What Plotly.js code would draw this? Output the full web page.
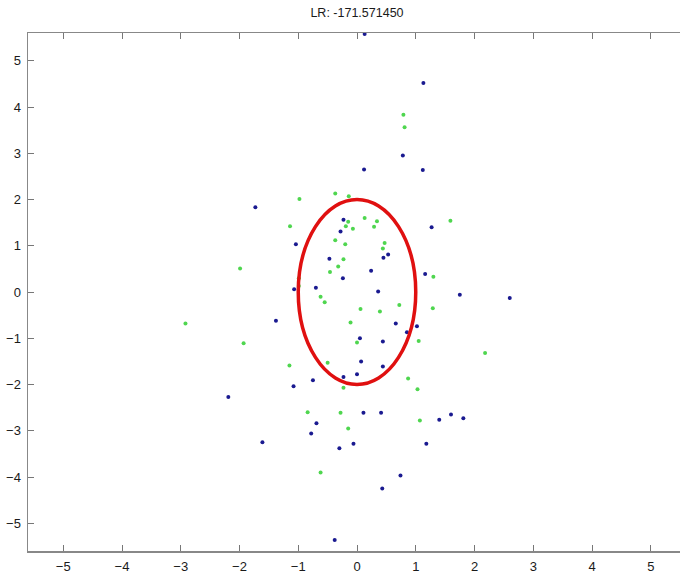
<!DOCTYPE html>
<html>
<head>
<meta charset="utf-8">
<script src="https://cdn.plot.ly/plotly-3.0.1.min.js"></script>
<style>
html,body{margin:0;padding:0;overflow:hidden;background:#fff;}
#chart{width:688px;height:575px;}
</style>
</head>
<body>
<div id="chart"></div>
<script>
// Blue sample points
const blueX = [0.13, 1.13, 0.78, 0.12, 1.12, -1.73, -0.23, 1.27, -0.28, -1.04, -0.47, 0.45, 0.53, 0.24, -0.24, 1.16, -1.07, -0.70, 0.36, 1.75, 2.60, -1.38, 0.66, 0.85, 1.02, 0.05, 0.44, 0.07, 0.44, 0.00, -0.23, -0.75, -1.08, -2.19, 0.11, 0.41, -0.69, -0.78, -1.61, -0.30, -0.06, 1.40, 1.60, 1.81, 1.18, 0.74, 0.43, -0.38];
const blueY = [5.58, 4.52, 2.95, 2.65, 2.64, 1.83, 1.56, 1.40, 1.31, 1.03, 0.72, 0.74, 0.81, 0.46, 0.30, 0.39, 0.06, 0.09, 0.01, -0.06, -0.13, -0.62, -0.68, -0.87, -0.74, -1.00, -1.07, -1.50, -1.61, -1.78, -1.84, -1.91, -2.04, -2.27, -2.61, -2.61, -2.84, -3.06, -3.25, -3.38, -3.28, -2.76, -2.65, -2.73, -3.28, -3.97, -4.25, -5.36];
// Green sample points
const greenX = [0.79, 0.81, -0.37, -0.14, -0.98, 1.59, 0.13, 0.34, -0.15, -0.19, -0.07, 0.29, -1.14, -0.37, -0.20, 0.47, 0.44, -0.23, -0.32, -1.99, -0.46, 1.30, -0.99, -0.99, -0.62, -0.55, 0.72, 1.29, 0.06, 0.39, -0.11, -2.92, -1.93, 0.00, 1.05, 2.18, -0.50, -1.15, 0.87, -0.23, 1.03, -0.84, -0.28, -0.15, 1.07, -0.62];
const greenY = [3.83, 3.56, 2.13, 2.07, 2.01, 1.54, 1.60, 1.53, 1.52, 1.42, 1.37, 1.41, 1.42, 1.12, 1.03, 1.06, 0.94, 0.71, 0.55, 0.51, 0.43, 0.33, 0.30, 0.13, -0.10, -0.22, -0.28, -0.35, -0.37, -0.42, -0.66, -0.68, -1.11, -1.09, -1.06, -1.32, -1.53, -1.59, -1.87, -2.07, -2.10, -2.60, -2.61, -2.95, -2.78, -3.90];
// Ellipse: center and radii
const ellipseCenter = [0, 0];
const ellipseRadii = [1, 2];
const tickVals = [-5, -4, -3, -2, -1, 0, 1, 2, 3, 4, 5];
const titleText = 'LR: -171.571450';

const traces = [
  {x: greenX, y: greenY, type: 'scatter', mode: 'markers', cliponaxis: false,
   marker: {color: '#4fd64f', size: 4}, hoverinfo: 'x+y'},
  {x: blueX, y: blueY, type: 'scatter', mode: 'markers', cliponaxis: false,
   marker: {color: '#1a1a90', size: 4}, hoverinfo: 'x+y'}
];

const axisCommon = {
  range: [-5.6, 5.6], tickvals: tickVals, ticks: 'inside', ticklen: 6,
  tickcolor: '#777', tickwidth: 1, showline: true, linecolor: '#888', linewidth: 1.5,
  mirror: 'ticks', showgrid: false, zeroline: false,
  tickfont: {family: 'Liberation Sans, Arial, sans-serif', size: 13, color: '#1a1a1a'}
};

const layout = {
  width: 688, height: 575,
  margin: {l: 28, r: 2, t: 33, b: 24},
  paper_bgcolor: '#fff', plot_bgcolor: '#fff',
  showlegend: false,
  title: {text: titleText, x: 0.5, xref: 'paper', y: 1 - 13/575, yref: 'container', yanchor: 'middle',
          font: {family: 'Liberation Sans, Arial, sans-serif', size: 12.5, color: '#1a1a1a'}},
  xaxis: Object.assign({}, axisCommon, {ticklabelstandoff: 3}),
  yaxis: Object.assign({}, axisCommon, {ticklabelstandoff: 3}),
  shapes: [{
    type: 'circle', xref: 'x', yref: 'y',
    x0: ellipseCenter[0] - ellipseRadii[0], x1: ellipseCenter[0] + ellipseRadii[0],
    y0: ellipseCenter[1] - ellipseRadii[1], y1: ellipseCenter[1] + ellipseRadii[1],
    line: {color: '#e01010', width: 3.5}, layer: 'above'
  }]
};

Plotly.newPlot('chart', traces, layout, {displayModeBar: false, staticPlot: true});
</script>
</body>
</html>
